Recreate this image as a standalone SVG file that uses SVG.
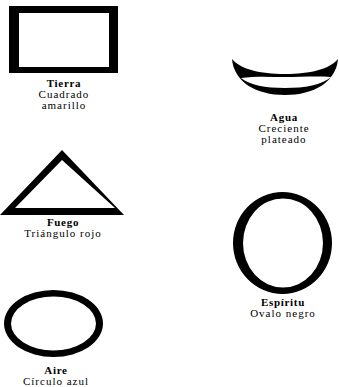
<svg xmlns="http://www.w3.org/2000/svg" width="339" height="387" viewBox="0 0 339 387">
<style>
.shape{fill:#000;fill-rule:evenodd;stroke:none}
text{font-family:"Liberation Serif",serif;font-size:11px;letter-spacing:1px;fill:#000;text-anchor:middle}
.t{font-weight:bold;letter-spacing:0.7px}
</style>
<rect width="339" height="387" fill="#fff"/>
<g id="tierra">
<path class="shape" d="M9,6 H118 V73 H9 Z M19,13 V67 H109 V13 Z"/>
<text class="t" x="64" y="86.5">Tierra</text>
<text x="64" y="97.5">Cuadrado</text>
<text x="64" y="108.5">amarillo</text>
</g>
<g id="agua">
<path class="shape" d="M232,59 C234,82 256,95 285,95 C314,95 336,82 338,59 C330,69 310,74 285,74 C260,74 240,69 232,59 Z M241,78 C256,76 270,77 285,77 C300,77 317,76 331,77 C322,85 305,88 285,88 C265,88 250,85 241,78 Z"/>
<text class="t" x="284" y="120.5">Agua</text>
<text x="284" y="131.5">Creciente</text>
<text x="284" y="142.5">plateado</text>
</g>
<g id="fuego">
<path class="shape" d="M62,150 L0,215 H124 Z M62,160 L115,208 H15 Z"/>
<text class="t" x="63" y="226">Fuego</text>
<text x="63" y="237">Triángulo rojo</text>
</g>
<g id="espiritu">
<path class="shape" d="M233,243 A49.5,51 0 1,0 332,243 A49.5,51 0 1,0 233,243 Z M243,243 A40,44.5 0 1,1 323,243 A40,44.5 0 1,1 243,243 Z"/>
<text class="t" x="283" y="306">Espíritu</text>
<text x="283" y="317">Ovalo negro</text>
</g>
<g id="aire">
<path class="shape" d="M4,323.5 A49.5,33.5 0 1,0 103,323.5 A49.5,33.5 0 1,0 4,323.5 Z M11,323.5 A42.5,27 0 1,1 96,323.5 A42.5,27 0 1,1 11,323.5 Z"/>
<text class="t" x="56" y="374">Aire</text>
<text x="56" y="385">Círculo azul</text>
</g>
<g id="connectors"/>
</svg>
